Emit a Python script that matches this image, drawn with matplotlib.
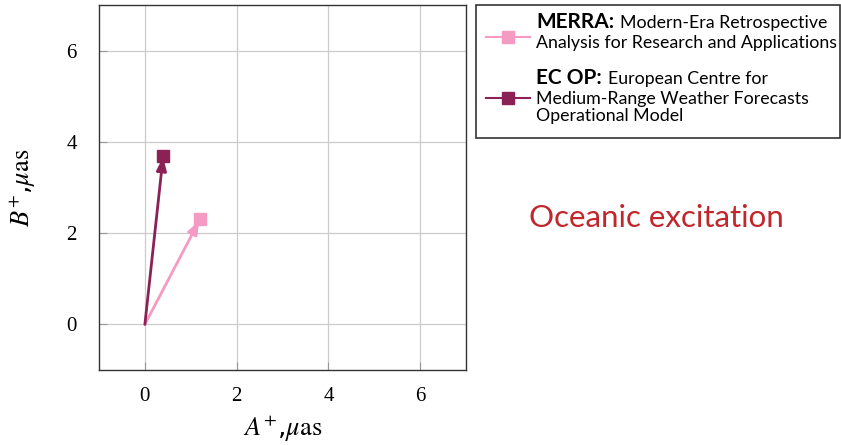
import matplotlib
matplotlib.use("Agg")
import matplotlib.pyplot as plt
from matplotlib.patches import Rectangle
from matplotlib.lines import Line2D

plt.rcParams['mathtext.fontset'] = 'stix'

# data
names = ["MERRA", "EC OP"]
descriptions = ["Modern-Era Retrospective\nAnalysis for Research and Applications",
                "European Centre for\nMedium-Range Weather Forecasts\nOperational Model"]
a_plus = [1.2, 0.4]
b_plus = [2.3, 3.7]
colors = ["#f59ac3", "#8c2156"]
ticks = [0, 2, 4, 6]

fig = plt.figure(figsize=(8.41, 4.45), dpi=100)
W, H = 841, 445
ax = fig.add_axes([99 / W, 1 - 370 / H, 367 / W, 365 / H])

ax.set_xlim(-1, 7)
ax.set_ylim(-1, 7)
ax.set_xticks(ticks)
ax.set_yticks(ticks)
ax.grid(True, color="#cccccc", lw=0.9)
ax.set_axisbelow(True)
ax.tick_params(direction="in", length=6, color="#999999", top=False, right=False,
               labelsize=15)
ax.tick_params(axis="x", pad=12)
ax.tick_params(axis="y", pad=16)
for lab in ax.get_xticklabels() + ax.get_yticklabels():
    lab.set_family("Liberation Serif")
for s in ax.spines.values():
    s.set_color("#333333")
    s.set_linewidth(1.0)

ax.set_xlabel(r"$A^{+}$,$\mu\mathrm{as}$", fontsize=19, labelpad=6)
ax.set_ylabel(r"$B^{+}$,$\mu\mathrm{as}$", fontsize=19, labelpad=20)

# arrows from origin
for x, y, c in zip(a_plus, b_plus, colors):
    ax.annotate("", xy=(x, y), xytext=(0, 0),
                arrowprops=dict(arrowstyle="-|>,head_length=0.8,head_width=0.3",
                                color=c, lw=2, shrinkA=0, shrinkB=1))
    ax.plot([x], [y], marker="s", color=c, markersize=9, ls="none")

# legend box drawn by hand
fig.patches.append(Rectangle((476 / W, 1 - 138 / H), 364 / W, 133 / H,
                             transform=fig.transFigure, fill=False,
                             edgecolor="#333333", lw=1.2))
handle_y = [37, 98]
name_y = [22, 78]
for i, (n, d, c) in enumerate(zip(names, descriptions, colors)):
    yy = 1 - handle_y[i] / H
    fig.lines.append(Line2D([486 / W, 530 / W], [yy, yy], transform=fig.transFigure,
                            color=c, lw=1.5, marker=None))
    fig.lines.append(Line2D([508 / W], [yy], transform=fig.transFigure,
                            color=c, marker="s", markersize=9, ls="none"))
    first, rest = d.split("\n", 1)
    t = fig.text(536 / W, 1 - name_y[i] / H, n + ":", fontsize=15, fontweight="bold",
                 family="Lato", va="center", ha="left")
    fig.canvas.draw()
    bb = t.get_window_extent()
    fig.text(bb.x1 / W + 6 / W, 1 - (name_y[i] + 1) / H, first, fontsize=12.8, family="Lato",
             va="center", ha="left")
    fig.text(536 / W, 1 - (name_y[i] + 13) / H, rest, fontsize=12.8, family="Lato",
             va="top", ha="left", linespacing=1.1)

fig.text(656 / W, 1 - 218 / H, "Oceanic excitation", fontsize=22.5, family="Lato",
         color="#c0262c", ha="center", va="center")

fig.savefig("out.png", dpi=100)
